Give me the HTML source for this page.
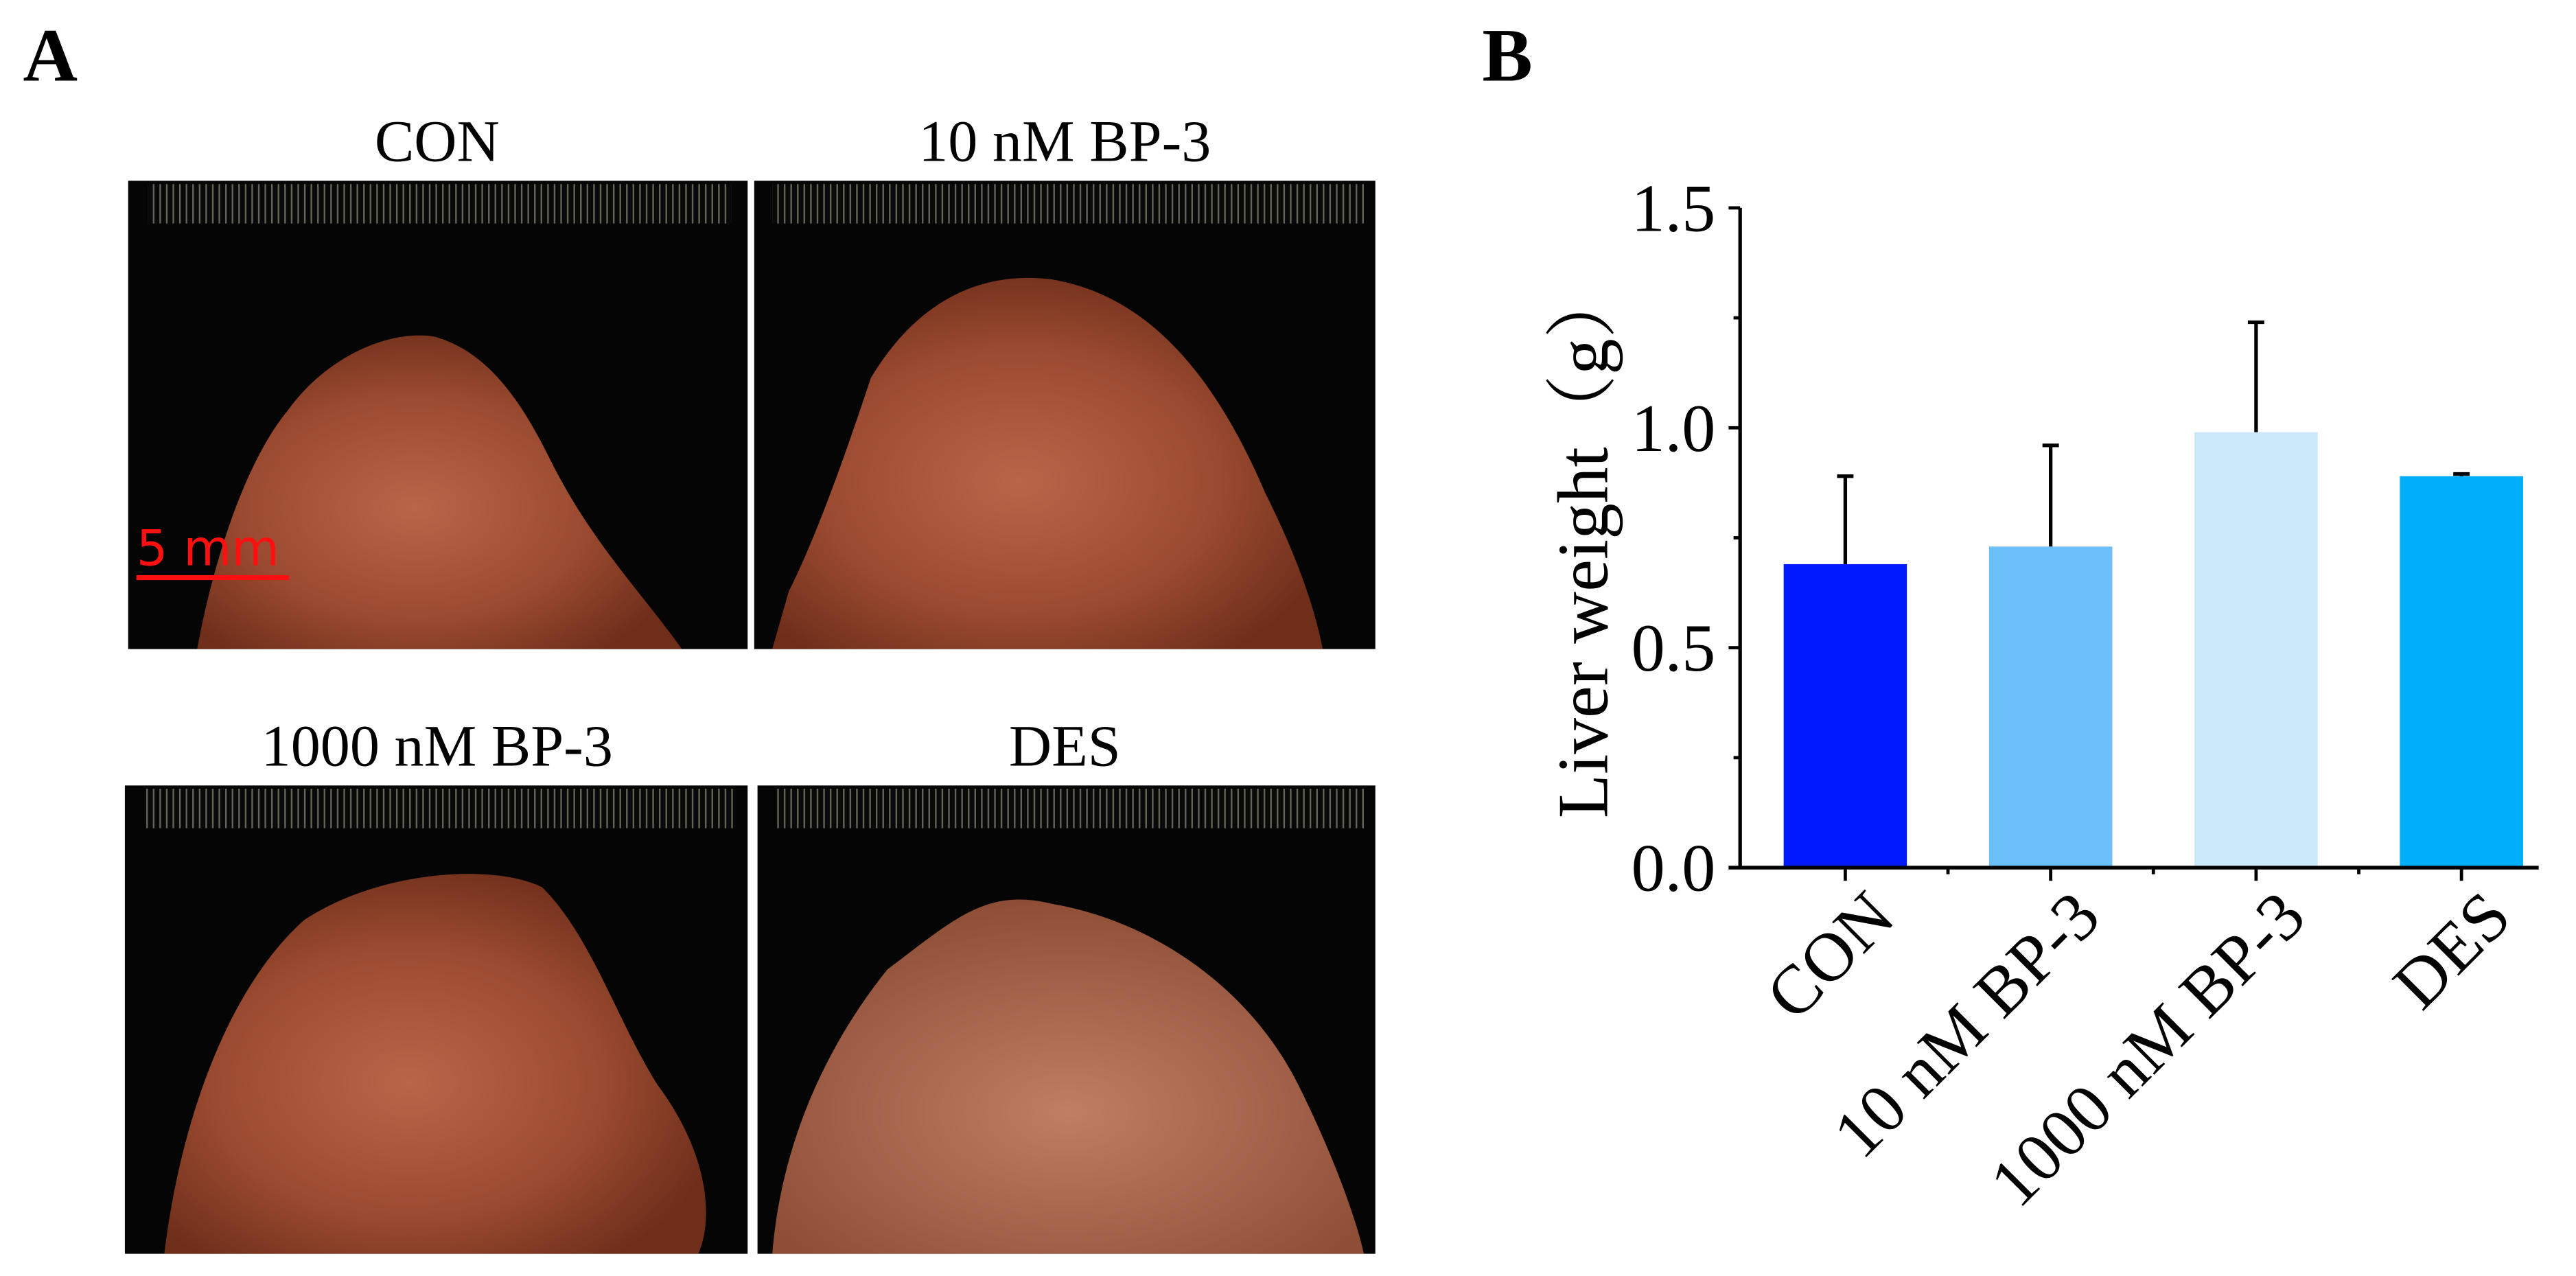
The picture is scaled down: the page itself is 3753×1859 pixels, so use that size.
<!DOCTYPE html>
<html><head><meta charset="utf-8"><style>html,body{margin:0;padding:0;background:#fff}svg{display:block}</style></head>
<body>
<svg id="fig" width="3753" height="1859" viewBox="0 0 1567.7 776.5" xmlns="http://www.w3.org/2000/svg" font-family="'Liberation Serif','Noto Serif CJK SC',serif">
<defs>
<radialGradient id="liv" cx="0.45" cy="0.55" r="0.6"><stop offset="0" stop-color="#b8664a"/><stop offset="0.6" stop-color="#9a4a30"/><stop offset="1" stop-color="#6e2e1a"/></radialGradient>
<radialGradient id="liv2" cx="0.5" cy="0.6" r="0.6"><stop offset="0" stop-color="#c07e64"/><stop offset="1" stop-color="#8e4e36"/></radialGradient>
<pattern id="ruler" width="4" height="24" patternUnits="userSpaceOnUse"><rect width="4" height="24" fill="#0a0a0a"/><rect x="1" width="1" height="24" fill="#7a7a6a"/></pattern>
</defs>
<text x="14" y="49" font-size="46" font-weight="bold">A</text>
<text x="902" y="49" font-size="46" font-weight="bold">B</text>

<g>
<text x="266" y="98" font-size="36" text-anchor="middle">CON</text>
<rect x="78" y="110" width="377" height="285" fill="#050505"/>
<rect x="90" y="112" width="355" height="24" fill="url(#ruler)" opacity="0.8"/>
<path d="M120,395 C130,340 150,280 175,250 C200,215 240,200 265,205 C300,215 320,250 335,280 C360,330 390,360 415,395 Z" fill="url(#liv)"/>
<text x="83" y="344" font-size="30" fill="#ff1010" font-family="'DejaVu Sans',sans-serif">5 mm</text>
<rect x="83" y="350" width="93" height="3" fill="#ff1010"/>
</g>
<g>
<text x="648" y="98" font-size="36" text-anchor="middle">10 nM BP-3</text>
<rect x="459" y="110" width="378" height="285" fill="#050505"/>
<rect x="470" y="112" width="360" height="24" fill="url(#ruler)" opacity="0.8"/>
<path d="M470,395 L480,360 C500,320 520,260 530,230 C560,180 600,165 640,170 C700,180 740,230 770,300 C790,340 800,370 805,395 Z" fill="url(#liv)"/>
</g>
<g>
<text x="266" y="466" font-size="36" text-anchor="middle">1000 nM BP-3</text>
<rect x="76" y="478" width="379" height="285" fill="#050505"/>
<rect x="88" y="480" width="360" height="24" fill="url(#ruler)" opacity="0.8"/>
<path d="M100,763 C110,680 140,600 185,560 C230,530 300,525 330,540 C360,570 375,620 400,660 C430,700 435,740 425,763 Z" fill="url(#liv)"/>
</g>
<g>
<text x="648" y="466" font-size="36" text-anchor="middle">DES</text>
<rect x="461" y="478" width="376" height="285" fill="#050505"/>
<rect x="472" y="480" width="358" height="24" fill="url(#ruler)" opacity="0.8"/>
<path d="M470,763 C475,700 500,640 540,590 C580,560 600,540 640,550 C700,560 760,600 790,660 C810,700 825,740 830,763 Z" fill="url(#liv2)"/>
</g>

<g id="chart"></g>
</svg>
<script>
const categories = ["CON", "10 nM BP-3", "1000 nM BP-3", "DES"];
const values = [0.69, 0.73, 0.99, 0.89];
const errors = [0.20, 0.23, 0.25, 0.005];
const colors = ["#0019ff", "#6cc0fa", "#cce9fb", "#00aefa"];
const yTicks = [0, 0.5, 1.0, 1.5];
const yTickLabels = ["0.0", "0.5", "1.0", "1.5"];
const yMinorTicks = [0.25, 0.75, 1.25];

const NS = "http://www.w3.org/2000/svg";
const g = document.getElementById("chart");
const X0 = 1059, X1 = 1545, Y0 = 528, Y1 = 126.5, YMAX = 1.5;
const step = 125, firstC = 1123, barW = 75;
function yS(v){ return Y0 - (v / YMAX) * (Y0 - Y1); }
function xS(i){ return firstC + i * step; }
function mk(tag, attrs){ const e = document.createElementNS(NS, tag); for (const k in attrs) e.setAttribute(k, attrs[k]); g.appendChild(e); return e; }

categories.forEach((c, i) => {
  const r = mk("rect", {x: xS(i) - barW/2, y: yS(values[i]), width: barW, height: Y0 - yS(values[i]), fill: colors[i]});
  
  
  const top = yS(values[i] + errors[i]);
  const e = mk("path", {d: `M${xS(i)},${yS(values[i])}V${top}M${xS(i)-5},${top}H${xS(i)+5}`, stroke: "#000", "stroke-width": 2.2, fill: "none"});
  
  
  const t = mk("path", {d: `M${xS(i)},${Y0}V${Y0+8}`, stroke: "#000", "stroke-width": 2});
  
  
  const lx = xS(i) + 32, ly = Y0 + 32;
  const lab = mk("text", {x: lx, y: ly, "font-size": 42, "text-anchor": "end", transform: `rotate(-45 ${lx} ${ly})`});
  lab.textContent = c;
  
  
  if (i < categories.length - 1) {
    const m = mk("path", {d: `M${xS(i)+step/2},${Y0}V${Y0+4}`, stroke: "#000", "stroke-width": 2});
    
    
  }
});
yTicks.forEach((v, i) => {
  const t = mk("path", {d: `M${X0-7},${yS(v)}H${X0}`, stroke: "#000", "stroke-width": 2});
  
  
  const l = mk("text", {x: X0 - 15, y: yS(v) + 14, "font-size": 41, "text-anchor": "end"});
  l.textContent = yTickLabels[i];
  
  
});
yMinorTicks.forEach(v => {
  const t = mk("path", {d: `M${X0-4},${yS(v)}H${X0}`, stroke: "#000", "stroke-width": 2});
  
  
});
const ya = mk("path", {d: `M${X0},${Y1}V${Y0}`, stroke: "#000", "stroke-width": 2.2});


const xa = mk("path", {d: `M${X0-7},${Y0}H${X1}`, stroke: "#000", "stroke-width": 2.2});


const yt = mk("text", {x: 978, y: 330, "font-size": 44, "text-anchor": "middle", transform: "rotate(-90 978 330)"});
yt.textContent = "Liver weight（g）";


</script>
</body></html>
